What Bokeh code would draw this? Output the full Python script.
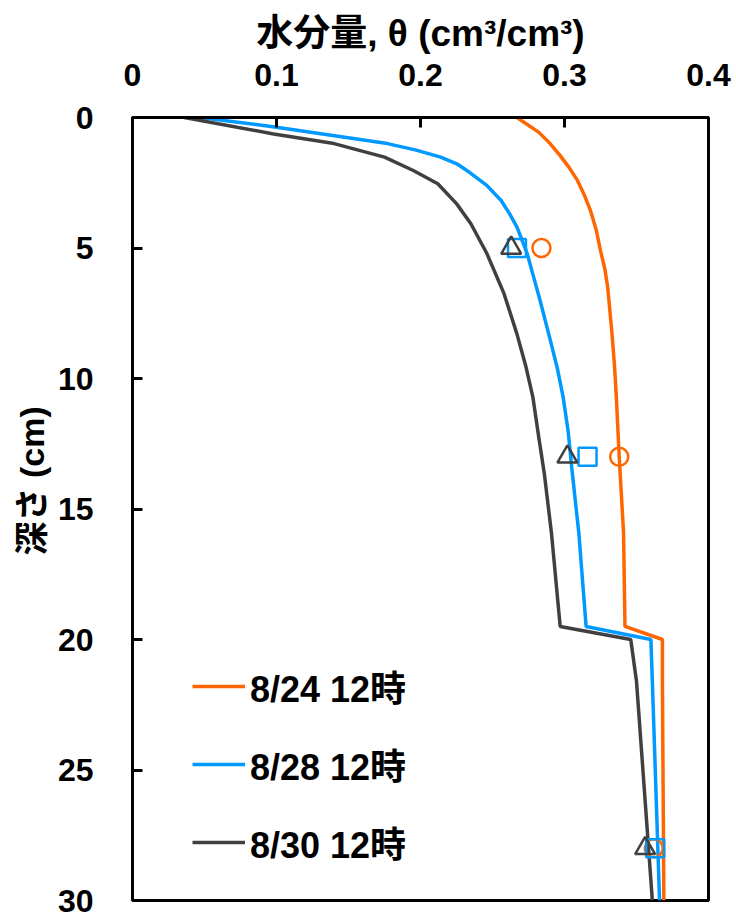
from bokeh.plotting import figure
from bokeh.models import Range1d, FixedTicker, Legend, LegendItem, Title
from bokeh.embed import file_html
from bokeh.resources import INLINE

# ---- data ----
depth_0824 = [0, 0.56, 1.0, 1.46, 1.9, 2.41, 3.0, 3.56, 4.3, 5.1, 5.8, 6.5, 7.4, 8.3, 9.5, 10.7, 13.0, 15.9, 19.5, 20.0, 21.6, 30]
theta_0824 = [0.267, 0.282, 0.290, 0.297, 0.303, 0.309, 0.314, 0.318, 0.322, 0.325, 0.328, 0.330, 0.3315, 0.333, 0.3347, 0.336, 0.338, 0.341, 0.342, 0.368, 0.368, 0.369]

depth_0828 = [0, 0.37, 1.0, 1.25, 1.52, 1.8, 2.1, 2.6, 3.18, 3.7, 4.2, 5.2, 6.0, 7.0, 8.5, 9.6, 10.7, 12.0, 13.4, 15.95, 19.5, 20.0, 21.6, 30]
theta_0828 = [0.047, 0.100, 0.177, 0.197, 0.214, 0.226, 0.234, 0.246, 0.256, 0.262, 0.267, 0.274, 0.278, 0.283, 0.290, 0.295, 0.299, 0.3025, 0.305, 0.310, 0.315, 0.360, 0.361, 0.366]

depth_0830 = [0, 0.63, 1.0, 1.52, 2.03, 2.54, 3.3, 4.07, 5.2, 6.75, 8.3, 9.5, 10.7, 12.2, 13.65, 15.95, 19.5, 20.0, 21.6, 30]
theta_0830 = [0.036, 0.098, 0.140, 0.175, 0.195, 0.212, 0.225, 0.235, 0.246, 0.258, 0.267, 0.273, 0.278, 0.282, 0.286, 0.291, 0.297, 0.346, 0.350, 0.361]

obs_depth = [5, 13, 28]
obs_0824 = [0.284, 0.338, 0.362]
obs_0828 = [0.267, 0.316, 0.363]
obs_0830 = [0.263, 0.302, 0.356]

series_labels = ["8/24 12時", "8/28 12時", "8/30 12時"]
x_ticks = [0, 0.1, 0.2, 0.3, 0.4]
x_tick_labels = ["0", "0.1", "0.2", "0.3", "0.4"]
y_ticks = [0, 5, 10, 15, 20, 25, 30]

x_title = "水分量, θ (cm³/cm³)"
y_title = "深さ (cm)"

ORANGE = "#FF6600"
BLUE = "#0099FF"
GRAY = "#404040"
FONT = "Liberation Sans, Noto Sans CJK JP"

p = figure(
    frame_width=576, frame_height=783,
    min_border_left=132, min_border_top=117, min_border_right=28, min_border_bottom=17,
    x_range=Range1d(0, 0.4), y_range=Range1d(30, 0),
    x_axis_location="above",
    output_backend="svg", toolbar_location=None,
)
p.grid.visible = False
p.outline_line_color = "black"
p.outline_line_width = 3
p.outline_line_alpha = 1.0

for ax in (p.xaxis[0], p.yaxis[0]):
    ax.axis_line_width = 3
    ax.major_tick_line_width = 3
    ax.major_tick_in = 10
    ax.major_tick_out = 0
    ax.minor_tick_line_color = None
    ax.major_label_text_font = FONT
    ax.major_label_text_font_style = "bold"
    ax.major_label_text_font_size = "32px"
    ax.major_label_text_color = "black"
    ax.axis_label_text_font = FONT
    ax.axis_label_text_font_style = "bold"
    ax.axis_label_text_font_size = "37px"
    ax.axis_label_text_color = "black"

p.xaxis.ticker = FixedTicker(ticks=x_ticks)
p.xaxis.major_label_overrides = {t: l for t, l in zip(x_ticks, x_tick_labels)}
p.xaxis.major_label_standoff = 32
p.xaxis.axis_label = x_title
p.xaxis.axis_label_standoff = 7

p.yaxis.ticker = FixedTicker(ticks=y_ticks)
p.yaxis.major_label_standoff = 39

r1 = p.line(theta_0824, depth_0824, line_color=ORANGE, line_width=3.5)
r2 = p.line(theta_0828, depth_0828, line_color=BLUE, line_width=3.5)
r3 = p.line(theta_0830, depth_0830, line_color=GRAY, line_width=3.5)

p.scatter(obs_0824, obs_depth, marker="circle", size=18, fill_color=None, line_color=ORANGE, line_width=2.5)
p.scatter(obs_0828, obs_depth, marker="square", size=18, fill_color=None, line_color=BLUE, line_width=2.5)
p.scatter(obs_0830, obs_depth, marker="triangle", size=20, fill_color=None, line_color=GRAY, line_width=2.5)

legend = Legend(
    items=[LegendItem(label=series_labels[0], renderers=[r1]),
           LegendItem(label=series_labels[1], renderers=[r2]),
           LegendItem(label=series_labels[2], renderers=[r3])],
    location=(60, 32),
    background_fill_alpha=0, border_line_alpha=0,
    padding=0, margin=0, spacing=26,
    label_height=50, glyph_height=50, glyph_width=53, label_standoff=5,
    label_text_font=FONT, label_text_font_style="bold", label_text_font_size="36px",
    label_text_color="black",
)
p.add_layout(legend)

ytitle = Title(text=y_title, align="left", offset=345, standoff=8,
               text_font=FONT, text_font_style="bold", text_font_size="34px", text_color="black")
p.add_layout(ytitle, "left")

open("out.html", "w").write(file_html(p, INLINE))
